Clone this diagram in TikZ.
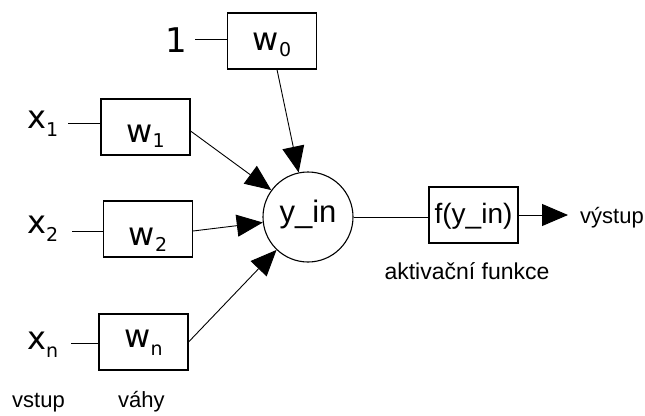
\documentclass[tikz,border=0pt]{standalone}
\usepackage{fontspec}
\setmainfont{Liberation Sans}
\newfontfamily\dvsans{DejaVu Sans}
\usetikzlibrary{arrows.meta}

% symbol with a lowered index: #1 base, #2 index, #3 drop of the index in pt
\newcommand\symlab[3]{{\dvsans\fontsize{32}{32}\selectfont #1\raisebox{-#3pt}{\fontsize{19}{19}\selectfont #2}}}

\begin{document}
\begin{tikzpicture}[x=1pt,y=-1pt,
  wire/.style={line width=0.9pt},
  arr/.style={wire,-{Triangle[length=26pt,width=22pt]}},
  wbox/.style={draw,line width=1.1pt,minimum width=89pt,minimum height=56pt,inner sep=0pt,text depth=0pt},
  neuron/.style={draw,circle,line width=1.1pt,minimum size=90pt,inner sep=0pt,
    font=\fontsize{31}{31}\selectfont,text height=16pt,text depth=6pt},
  inlab/.style={anchor=base west,inner sep=0pt},
  caption/.style={font=\fontsize{22}{22}\selectfont,inner sep=0pt}
]
\useasboundingbox (0,0) rectangle (645,415);

% weights
\node[wbox,text height=18pt] (w0) at (272,41) {\symlab{w}{0}{6}};
\node[wbox,text height=30pt] (w1) at (145.5,127) {\symlab{w}{1}{5}};
\node[wbox,text height=32pt] (w2) at (148,229) {\symlab{w}{2}{6}};
\node[wbox,text height=10pt] (wn) at (143.5,342) {\symlab{w}{n}{8}};

% summation and activation
\node[neuron] (c) at (308,217) {y\_in};
\node[wbox,font=\fontsize{28}{28}\selectfont,text height=20pt,text depth=4pt] (f) at (473.5,215) {f(y\_in)};

% inputs
\node[inlab] (one) at (165,52) {{\dvsans\fontsize{34}{34}\selectfont 1}};
\node[inlab] (x1) at (27,128) {\symlab{x}{1}{8}};
\node[inlab] (x2) at (27,233) {\symlab{x}{2}{8}};
\node[inlab] (xn) at (27,349) {\symlab{x}{n}{8}};

\coordinate (onee) at (195,39);
\coordinate (x1e) at (68,123);
\coordinate (x2e) at (72,231);
\coordinate (xne) at (71,343);
\draw[wire] (onee) -- (onee -| w0.west);
\draw[wire] (x1e) -- (x1e -| w1.west);
\draw[wire] (x2e) -- (x2e -| w2.west);
\draw[wire] (xne) -- (xne -| wn.west);

% weighted inputs into the neuron
\draw[arr] ([xshift=5pt]w0.south) -- (c);
\draw[arr] ([yshift=-4pt]w1.east) -- (c);
\draw[arr] ([yshift=-2pt]w2.east) -- (c);
\draw[arr] (wn.east) -- (c);

% output
\draw[wire] (c.east) -- (c.east -| f.west);
\coordinate (tip) at (568,216);
\draw[arr] (f.east) -- (f.east -| tip);
\node[caption,anchor=base west] (out) at (580,223) {výstup};
\node[caption,anchor=base,font=\fontsize{23}{23}\selectfont] (act) at (467,279) {aktivační funkce};

% column captions
\node[caption,anchor=base west] (vin) at (12,407) {vstup};
\node[caption,anchor=base west] (vw) at (118,407) {váhy};
\end{tikzpicture}
\end{document}
